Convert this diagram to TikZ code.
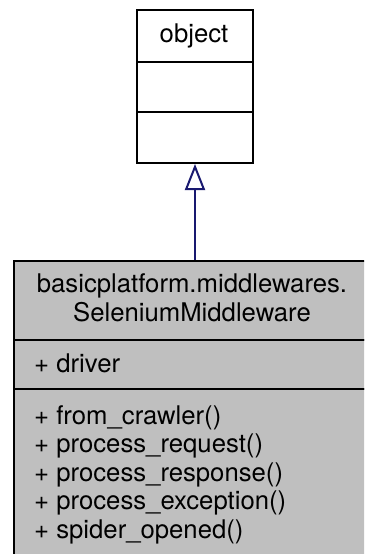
\documentclass[tikz,border=0pt]{standalone}
\usepackage{fontspec}
\setmainfont{TeX Gyre Heros}
\usetikzlibrary{arrows.meta,positioning}
\definecolor{DoxNavy}{HTML}{191970}
\definecolor{DoxGrey}{HTML}{BFBFBF}

\begin{document}
\begin{tikzpicture}[
    x=1pt, y=-1pt,
    font=\fontsize{25.7}{28.6}\selectfont,
    compart/.style={draw=black, fill=#1, line width=2pt, anchor=north west, inner sep=0pt},
    member/.style={anchor=base west, inner sep=0pt},
    inherit/.style={draw=DoxNavy, line width=2pt, -{Triangle[open, length=26pt, width=20pt]}}
]
  \useasboundingbox (0,0) rectangle (364,554);
  \clip (0,0) rectangle (364,554);

  % -------------------------------------------------------------
  % BASE CLASS: object
  % -------------------------------------------------------------
  \node[compart=white, minimum width=116pt, minimum height=51.7pt] (objname) at (136,9.3) {};
  \node[compart=white, minimum width=116pt, minimum height=50pt] (objattr) at (136,61) {};
  \node[compart=white, minimum width=116pt, minimum height=51pt] (objops) at (136,111) {};
  \node[anchor=base, inner sep=0pt] (objlabel) at (194,42.5) {object};

  % -------------------------------------------------------------
  % DERIVED CLASS: SeleniumMiddleware
  % -------------------------------------------------------------
  \node[compart=DoxGrey, minimum width=360pt, minimum height=79.5pt] (selname) at (13,259.5) {};
  \node[compart=DoxGrey, minimum width=360pt, minimum height=49pt] (selattr) at (13,339) {};
  \node[compart=DoxGrey, minimum width=360pt, minimum height=170pt] (selops) at (13,388) {};
  \node[anchor=base, inner sep=0pt] (seltitle1) at (192,292.5) {basicplatform.middlewares.};
  \node[anchor=base, inner sep=0pt] (seltitle2) at (192,321) {SeleniumMiddleware};
  \node[member] (attrdriver) at (34,372) {+ driver};
  \node[member] (opcrawler) at (34,424) {+ from\_crawler()};
  \node[member] (oprequest) at (34,452.6) {+ process\_request()};
  \node[member] (opresponse) at (34,481.2) {+ process\_response()};
  \node[member] (opexception) at (34,509.8) {+ process\_exception()};
  \node[member] (opspider) at (34,538.4) {+ spider\_opened()};

  % inheritance arrow
  \draw[inherit] (objops.south |- selname.north) -- (objops.south);

\end{tikzpicture}
\end{document}
